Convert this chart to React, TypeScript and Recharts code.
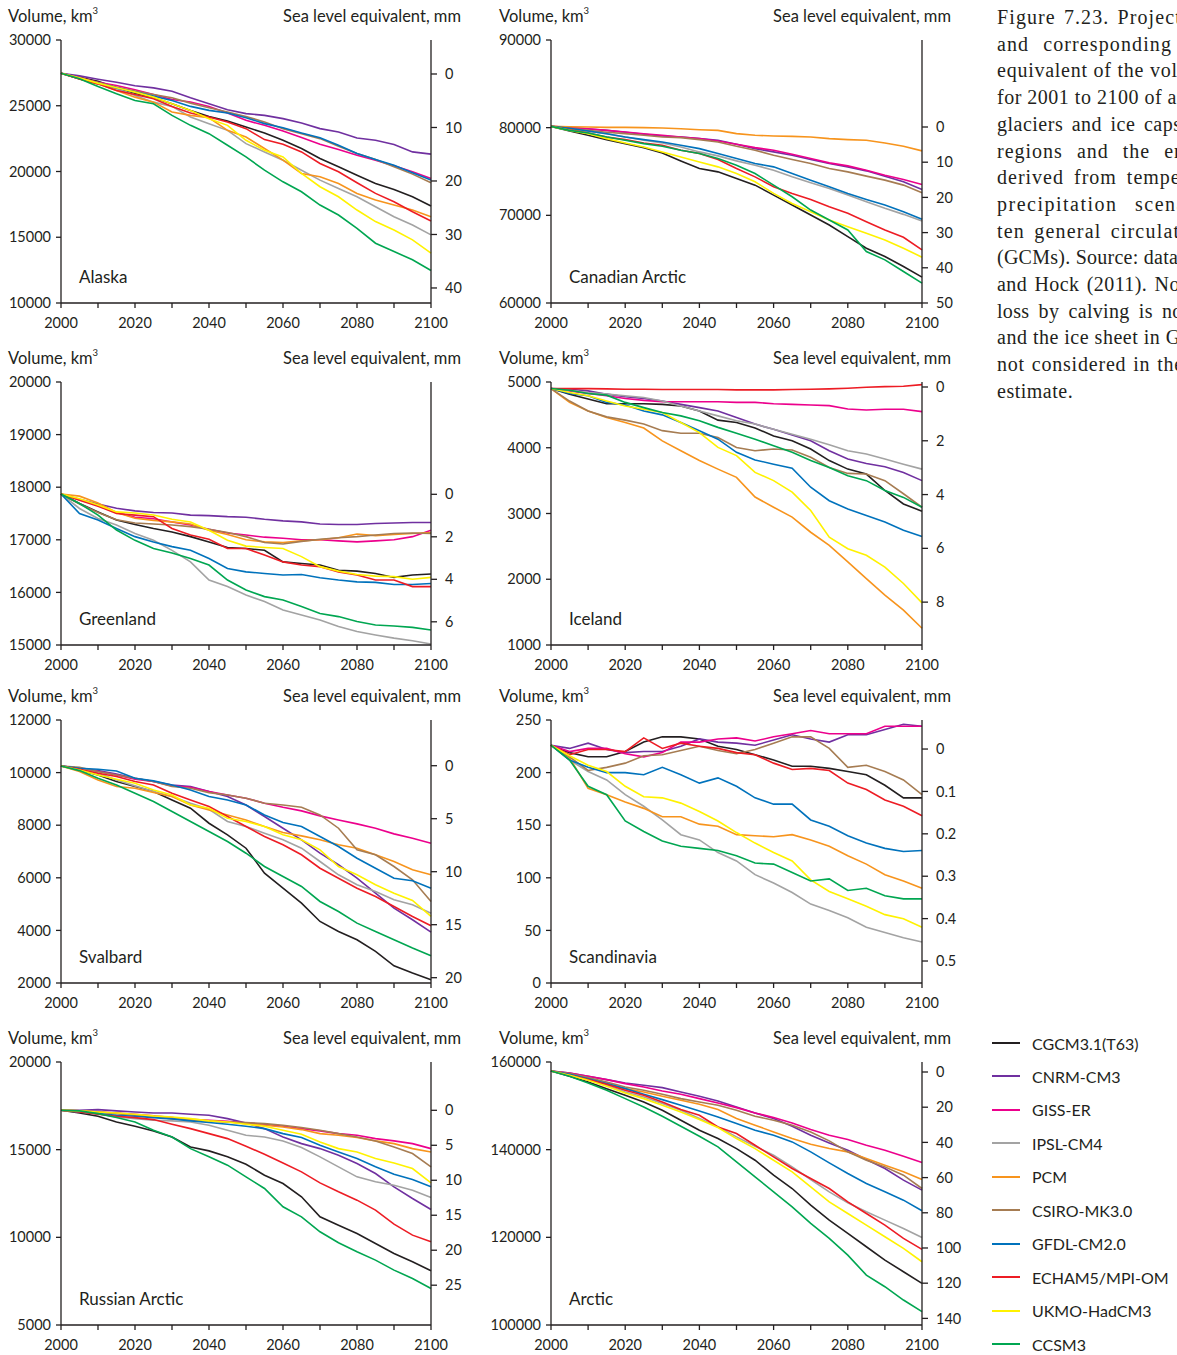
import React from 'react';
import { LineChart, Line, XAxis, YAxis } from 'recharts';

// Glacier volume projections, km3, one value every 5 years 2000-2100.
const YEARS = [2000, 2005, 2010, 2015, 2020, 2025, 2030, 2035, 2040, 2045, 2050, 2055, 2060, 2065, 2070, 2075, 2080, 2085, 2090, 2095, 2100];
const DECADES = [2000, 2010, 2020, 2030, 2040, 2050, 2060, 2070, 2080, 2090, 2100];

const MODELS = ['CGCM3.1(T63)', 'CNRM-CM3', 'GISS-ER', 'IPSL-CM4', 'PCM', 'CSIRO-MK3.0', 'GFDL-CM2.0', 'ECHAM5/MPI-OM', 'UKMO-HadCM3', 'CCSM3'];
const COLORS = ['#231f20', '#7030a0', '#ec008c', '#a3a3a3', '#f7941d', '#a67c52', '#0072bc', '#ed1c24', '#fff200', '#00a651'];

// each panel: one row per model, in MODELS order
const ALASKA = [
  [27470, 27170, 26870, 26365, 25960, 25605, 25150, 24645, 24190, 23840, 23385, 22930, 22375, 21745, 20985, 20355, 19720, 19090, 18640, 18080, 17375],
  [27470, 27270, 27020, 26790, 26520, 26360, 26110, 25600, 25150, 24700, 24400, 24270, 24020, 23690, 23260, 23010, 22550, 22380, 22050, 21490, 21320],
  [27470, 27120, 26790, 26540, 26210, 25860, 25480, 25280, 24950, 24450, 23890, 23510, 23080, 22580, 22070, 21670, 21240, 20860, 20430, 19980, 19470],
  [27470, 27045, 26665, 26290, 25780, 25275, 24950, 24140, 23635, 23130, 22120, 21490, 20860, 20100, 19345, 18710, 18080, 17320, 16565, 15935, 15180],
  [27470, 27045, 26665, 26160, 25655, 25275, 24520, 24270, 24090, 23130, 22625, 21745, 20860, 19850, 19595, 19090, 18335, 17830, 17450, 17070, 16565],
  [27470, 27095, 26770, 26415, 26110, 25860, 25605, 25200, 24850, 24520, 24190, 23765, 23260, 22880, 22500, 21920, 21365, 20910, 20355, 19800, 19140],
  [27470, 27050, 26720, 26360, 26035, 25730, 25400, 24950, 24650, 24445, 24090, 23640, 23330, 22930, 22575, 21995, 21365, 20910, 20480, 19900, 19345],
  [27470, 27045, 26665, 26160, 25860, 25530, 24950, 24445, 24140, 23765, 23260, 22425, 22070, 21490, 20605, 19975, 19140, 18335, 17705, 16945, 16240],
  [27470, 27120, 26720, 26365, 26035, 25655, 25150, 24645, 24015, 23510, 22375, 21615, 21110, 19850, 18840, 18080, 17070, 16190, 15555, 14800, 13790],
  [27470, 27045, 26465, 25910, 25405, 25150, 24270, 23510, 22875, 21995, 21110, 20100, 19215, 18460, 17450, 16690, 15680, 14545, 13915, 13285, 12475],
];

const CANADIAN_ARCTIC = [
  [80150, 79620, 79130, 78635, 78180, 77725, 77120, 76210, 75340, 74960, 74205, 73445, 72310, 71170, 70035, 68900, 67575, 66250, 65300, 64165, 62950],
  [80150, 80000, 79850, 79695, 79470, 79240, 79050, 78940, 78750, 78560, 78105, 77610, 77235, 76855, 76360, 75910, 75530, 75075, 74470, 73825, 72950],
  [80150, 80000, 79885, 79695, 79505, 79315, 79130, 78940, 78750, 78485, 78105, 77725, 77425, 76970, 76475, 75985, 75640, 75150, 74580, 74090, 73520],
  [80150, 79850, 79580, 79315, 78940, 78560, 78255, 77800, 77235, 76780, 76210, 75720, 75150, 74390, 73710, 73065, 72310, 71550, 70795, 70110, 69355],
  [80150, 80110, 80075, 80035, 80035, 80000, 79960, 79885, 79770, 79695, 79320, 79130, 79050, 79010, 78940, 78750, 78635, 78560, 78255, 77880, 77350],
  [80150, 79925, 79695, 79470, 79315, 79130, 78940, 78860, 78635, 78370, 77880, 77425, 76855, 76360, 75910, 75340, 74960, 74470, 74015, 73445, 72575],
  [80150, 79925, 79620, 79315, 78940, 78635, 78370, 77990, 77610, 77045, 76475, 75910, 75530, 74770, 74015, 73255, 72500, 71815, 71170, 70415, 69545],
  [80150, 79770, 79390, 78940, 78635, 78255, 77990, 77425, 77045, 76360, 75340, 74390, 73255, 72500, 71815, 70985, 70225, 69280, 68330, 67500, 66060],
  [80150, 79695, 79315, 78750, 78255, 77800, 77235, 76665, 76095, 75530, 74770, 73825, 72500, 71360, 70415, 69470, 68710, 67955, 67195, 66250, 65225],
  [80150, 79695, 79390, 78940, 78560, 78180, 77880, 77425, 77045, 76475, 75720, 74770, 73445, 72120, 70605, 69470, 68330, 65870, 64920, 63595, 62270],
];

const GREENLAND = [
  [17870, 17690, 17530, 17375, 17290, 17215, 17150, 17060, 16960, 16855, 16835, 16800, 16580, 16550, 16520, 16420, 16405, 16360, 16285, 16330, 16350],
  [17870, 17770, 17680, 17600, 17550, 17520, 17510, 17470, 17460, 17440, 17430, 17390, 17360, 17340, 17300, 17290, 17290, 17310, 17320, 17330, 17330],
  [17870, 17760, 17650, 17520, 17430, 17400, 17340, 17280, 17200, 17130, 17090, 17050, 17030, 17000, 17000, 16980, 16960, 16980, 17000, 17060, 17180],
  [17870, 17595, 17405, 17280, 17120, 16990, 16800, 16580, 16235, 16110, 15950, 15825, 15665, 15570, 15475, 15350, 15255, 15190, 15130, 15080, 15020],
  [17870, 17830, 17700, 17520, 17410, 17370, 17340, 17300, 17180, 17100, 17000, 16960, 16950, 16980, 17000, 17040, 17110, 17080, 17100, 17120, 17140],
  [17870, 17680, 17520, 17380, 17320, 17300, 17280, 17250, 17200, 17140, 17060, 16950, 16920, 16970, 17010, 17040, 17060, 17090, 17120, 17130, 17120],
  [17870, 17500, 17375, 17215, 17060, 16960, 16870, 16800, 16645, 16455, 16390, 16360, 16330, 16340, 16280, 16235, 16200, 16190, 16150, 16150, 16170],
  [17870, 17750, 17640, 17500, 17470, 17440, 17215, 17090, 17010, 16835, 16835, 16710, 16580, 16520, 16490, 16390, 16330, 16235, 16235, 16110, 16110],
  [17870, 17780, 17660, 17530, 17510, 17470, 17390, 17340, 17180, 16990, 16880, 16855, 16835, 16680, 16490, 16405, 16340, 16310, 16300, 16250, 16285],
  [17870, 17690, 17470, 17185, 16990, 16835, 16750, 16645, 16520, 16235, 16045, 15920, 15855, 15730, 15600, 15540, 15445, 15380, 15360, 15335, 15285],
];

const ICELAND = [
  [4900, 4815, 4740, 4670, 4670, 4670, 4660, 4635, 4560, 4420, 4385, 4300, 4180, 4105, 3980, 3805, 3675, 3600, 3350, 3145, 3035],
  [4900, 4890, 4865, 4815, 4775, 4750, 4710, 4660, 4610, 4560, 4460, 4360, 4280, 4195, 4105, 3955, 3830, 3760, 3710, 3625, 3500],
  [4900, 4865, 4825, 4790, 4750, 4720, 4700, 4700, 4700, 4700, 4690, 4690, 4670, 4660, 4650, 4640, 4590, 4575, 4585, 4585, 4550],
  [4900, 4875, 4840, 4815, 4790, 4765, 4710, 4635, 4560, 4485, 4410, 4360, 4280, 4205, 4130, 4045, 3955, 3905, 3830, 3750, 3675],
  [4900, 4690, 4560, 4460, 4385, 4300, 4105, 3955, 3805, 3675, 3550, 3250, 3095, 2945, 2715, 2515, 2265, 2010, 1760, 1530, 1255],
  [4900, 4710, 4560, 4470, 4420, 4360, 4260, 4220, 4220, 4155, 4005, 3955, 3980, 3965, 3855, 3700, 3610, 3600, 3500, 3300, 3095],
  [4900, 4825, 4790, 4690, 4650, 4560, 4500, 4385, 4260, 4130, 3930, 3815, 3750, 3690, 3400, 3195, 3070, 2970, 2870, 2745, 2650],
  [4900, 4900, 4900, 4895, 4890, 4890, 4885, 4885, 4885, 4885, 4880, 4880, 4880, 4885, 4890, 4895, 4905, 4920, 4930, 4935, 4960],
  [4900, 4840, 4790, 4710, 4635, 4585, 4535, 4385, 4230, 4005, 3880, 3625, 3500, 3325, 3045, 2640, 2465, 2365, 2185, 1935, 1640],
  [4900, 4875, 4825, 4800, 4690, 4610, 4535, 4485, 4410, 4310, 4220, 4130, 4030, 3930, 3805, 3700, 3575, 3500, 3350, 3245, 3095],
];

const SVALBARD = [
  [10250, 10100, 9910, 9660, 9470, 9280, 8960, 8645, 8075, 7635, 7125, 6175, 5605, 5035, 4340, 3960, 3645, 3200, 2655, 2380, 2125],
  [10250, 10165, 10075, 9950, 9785, 9660, 9530, 9470, 9280, 9090, 8770, 8330, 7885, 7445, 6935, 6495, 5985, 5415, 4845, 4405, 3935],
  [10250, 10165, 10040, 9910, 9745, 9660, 9495, 9445, 9280, 9150, 9025, 8835, 8680, 8545, 8355, 8200, 8050, 7885, 7670, 7505, 7315],
  [10250, 10165, 9975, 9720, 9495, 9280, 9090, 8835, 8605, 8140, 7950, 7695, 7445, 7125, 6620, 6115, 5735, 5480, 5165, 4975, 4655],
  [10250, 10040, 9720, 9470, 9405, 9240, 9090, 8770, 8580, 8390, 8200, 7950, 7720, 7595, 7445, 7255, 7125, 6875, 6620, 6305, 6115],
  [10250, 10200, 10040, 9910, 9785, 9660, 9470, 9405, 9240, 9150, 9025, 8835, 8770, 8680, 8390, 7885, 7065, 6875, 6430, 5925, 5100],
  [10250, 10165, 10125, 10060, 9785, 9685, 9530, 9340, 9090, 8960, 8770, 8390, 8100, 7950, 7570, 7190, 6745, 6365, 5985, 5885, 5605],
  [10250, 10125, 9975, 9850, 9660, 9530, 9215, 8960, 8710, 8330, 7950, 7570, 7255, 6875, 6365, 5985, 5605, 5290, 4910, 4530, 4175],
  [10250, 10100, 9910, 9745, 9595, 9340, 9150, 8770, 8645, 8265, 8140, 7950, 7635, 7445, 7065, 6430, 6115, 5735, 5415, 5140, 4530],
  [10250, 10075, 9785, 9530, 9215, 8900, 8520, 8140, 7760, 7380, 6935, 6430, 6050, 5670, 5100, 4720, 4275, 3960, 3645, 3330, 3035],
];

const SCANDINAVIA = [
  [226, 219, 215, 215, 220, 229, 234, 234, 232, 225, 222, 217, 212, 206, 206, 204, 201, 198, 188, 176, 176],
  [226, 223, 228, 222, 219, 220, 220, 225, 232, 229, 228, 226, 231, 236, 232, 229, 236, 236, 241, 246, 244],
  [226, 220, 223, 223, 218, 215, 219, 229, 229, 232, 233, 230, 234, 237, 240, 237, 237, 237, 244, 244, 244],
  [226, 212, 201, 193, 179, 168, 155, 141, 136, 124, 116, 103, 95, 86, 75, 69, 62, 53, 48, 43, 39],
  [226, 214, 185, 179, 172, 166, 158, 158, 151, 149, 141, 140, 139, 141, 136, 130, 121, 113, 103, 97, 90],
  [226, 215, 202, 205, 209, 216, 217, 221, 225, 221, 218, 222, 228, 234, 234, 223, 205, 207, 201, 193, 179],
  [226, 212, 205, 200, 200, 198, 205, 198, 190, 195, 187, 176, 170, 170, 155, 149, 140, 133, 128, 125, 126],
  [226, 217, 222, 222, 220, 233, 223, 228, 225, 223, 219, 217, 209, 203, 204, 202, 190, 184, 174, 168, 159],
  [226, 216, 207, 201, 187, 177, 176, 171, 163, 154, 143, 133, 124, 116, 98, 87, 80, 73, 65, 61, 53],
  [226, 212, 187, 179, 154, 144, 135, 130, 128, 126, 121, 114, 113, 105, 97, 99, 88, 90, 83, 80, 80],
];

const RUSSIAN_ARCTIC = [
  [17250, 17095, 16905, 16580, 16335, 16070, 15725, 15155, 14930, 14590, 14170, 13545, 13070, 12310, 11170, 10695, 10220, 9650, 9080, 8605, 8095],
  [17250, 17250, 17285, 17210, 17150, 17095, 17095, 17020, 16960, 16770, 16525, 16200, 15725, 15345, 15060, 14685, 14210, 13640, 12880, 12215, 11590],
  [17250, 17210, 17150, 17095, 17020, 16925, 16830, 16735, 16675, 16620, 16525, 16450, 16335, 16200, 16070, 15915, 15820, 15630, 15500, 15345, 15060],
  [17250, 17150, 17055, 16865, 16770, 16675, 16640, 16580, 16390, 16105, 15820, 15725, 15500, 15120, 14590, 14020, 13450, 13165, 12975, 12690, 12270],
  [17250, 17210, 17150, 17095, 16960, 16865, 16770, 16735, 16640, 16580, 16485, 16390, 16295, 16145, 15915, 15820, 15690, 15500, 15345, 15060, 14870],
  [17250, 17210, 17150, 17055, 16960, 16865, 16770, 16675, 16620, 16580, 16545, 16485, 16390, 16260, 16105, 15915, 15725, 15500, 15155, 14780, 14020],
  [17250, 17150, 17055, 16960, 16905, 16830, 16755, 16640, 16545, 16450, 16335, 16200, 15915, 15690, 15255, 14870, 14495, 14020, 13600, 13295, 12880],
  [17250, 17150, 17020, 16905, 16830, 16715, 16450, 16200, 15915, 15630, 15195, 14740, 14245, 13735, 13105, 12595, 12120, 11550, 10750, 10125, 9745],
  [17250, 17210, 17150, 17095, 17020, 16925, 16865, 16770, 16640, 16580, 16450, 16335, 16105, 15880, 15440, 15060, 14870, 14495, 14245, 13925, 13105],
  [17250, 17210, 17055, 16830, 16580, 16105, 15725, 15060, 14590, 14115, 13450, 12785, 11740, 11170, 10315, 9690, 9175, 8700, 8130, 7655, 7085],
];

const ARCTIC = [
  [157950, 156735, 155445, 153925, 152405, 150885, 148985, 146710, 144430, 142530, 140250, 137595, 134175, 131140, 127340, 123925, 120885, 117850, 114810, 112150, 109495],
  [157950, 157500, 156735, 155975, 155215, 154685, 154150, 153165, 152180, 151115, 149745, 148380, 147090, 145340, 143290, 141545, 139870, 137745, 135700, 133040, 130760],
  [157950, 157500, 156735, 155975, 155065, 154300, 153390, 152630, 151645, 150660, 149595, 148380, 147315, 146100, 144580, 143290, 142300, 141010, 139870, 138505, 137065],
  [157950, 156960, 155975, 154685, 153165, 152025, 150505, 148985, 147090, 145190, 142910, 140785, 138735, 136075, 133190, 130380, 127875, 125820, 123925, 122025, 119975],
  [157950, 157190, 156200, 155065, 153925, 153165, 152180, 151265, 150355, 149140, 147090, 145570, 144050, 142530, 141240, 140250, 139495, 137975, 136455, 134935, 133190],
  [157950, 157340, 156430, 155445, 154300, 153545, 152630, 151645, 150885, 150125, 148985, 147620, 146710, 145570, 144050, 142000, 139495, 137595, 136075, 134175, 131140],
  [157950, 157190, 156200, 155065, 153925, 152630, 151415, 150125, 148835, 147470, 145950, 144430, 143290, 141770, 139495, 136990, 134555, 132280, 130380, 128480, 126050],
  [157950, 156960, 155975, 154910, 153545, 152405, 150885, 149140, 147850, 145190, 143670, 141010, 138355, 135700, 133420, 131140, 128100, 125445, 122785, 119745, 117240],
  [157950, 156960, 155825, 154455, 152935, 151645, 150125, 148610, 146860, 145040, 142530, 140250, 137595, 134935, 131520, 128100, 125445, 122785, 120125, 117470, 114430],
  [157950, 156735, 155215, 153545, 151645, 149745, 147620, 145340, 143065, 140635, 137215, 133800, 130380, 126960, 123165, 119745, 115950, 111390, 108735, 105695, 103035],
];

// zero = volume at 0 mm sea level, kmPerMm = km3 of ice per mm of sea level
const PANELS = [
  { name: 'Alaska', series: ALASKA, col: 0, row: 0, yDomain: [10000, 30000], yTicks: [10000, 15000, 20000, 25000, 30000], zero: 27415, kmPerMm: 406.8, sleTicks: [0, 10, 20, 30, 40] },
  { name: 'Canadian Arctic', series: CANADIAN_ARCTIC, col: 1, row: 0, yDomain: [60000, 90000], yTicks: [60000, 70000, 80000, 90000], zero: 80076, kmPerMm: 401.5, sleTicks: [0, 10, 20, 30, 40, 50] },
  { name: 'Greenland', series: GREENLAND, col: 0, row: 1, yDomain: [15000, 20000], yTicks: [15000, 16000, 17000, 18000, 19000, 20000], zero: 17865, kmPerMm: 404, sleTicks: [0, 2, 4, 6] },
  { name: 'Iceland', series: ICELAND, col: 1, row: 1, yDomain: [1000, 5000], yTicks: [1000, 2000, 3000, 4000, 5000], zero: 4924, kmPerMm: 409, sleTicks: [0, 2, 4, 6, 8] },
  { name: 'Svalbard', series: SVALBARD, col: 0, row: 2, yDomain: [2000, 12000], yTicks: [2000, 4000, 6000, 8000, 10000, 12000], zero: 10262, kmPerMm: 403, sleTicks: [0, 5, 10, 15, 20] },
  { name: 'Scandinavia', series: SCANDINAVIA, col: 1, row: 2, yDomain: [0, 250], yTicks: [0, 50, 100, 150, 200, 250], zero: 222.4, kmPerMm: 403, sleTicks: [0, 0.1, 0.2, 0.3, 0.4, 0.5] },
  { name: 'Russian Arctic', series: RUSSIAN_ARCTIC, col: 0, row: 3, yDomain: [5000, 20000], yTicks: [5000, 10000, 15000, 20000], zero: 17245, kmPerMm: 399, sleTicks: [0, 5, 10, 15, 20, 25] },
  { name: 'Arctic', series: ARCTIC, col: 1, row: 3, yDomain: [100000, 160000], yTicks: [100000, 120000, 140000, 160000], zero: 157719, kmPerMm: 401.5, sleTicks: [0, 20, 40, 60, 80, 100, 120, 140] },
];

// the caption runs off the right edge of the picture, as in the original page
const CAPTION = [
  { text: 'Figure 7.23. Projected volume', ws: 2, ls: 1.1 },
  { text: 'and corresponding sea-level', ws: 8, ls: 1.1 },
  { text: 'equivalent of the volume change', ws: 0, ls: 0.75 },
  { text: 'for 2001 to 2100 of all mountain', ws: 0, ls: 0.5 },
  { text: 'glaciers and ice caps in Arctic', ws: 3, ls: 0.5 },
  { text: 'regions and the entire Arctic', ws: 8, ls: 1.0 },
  { text: 'derived from temperature and', ws: 4, ls: 1.0 },
  { text: 'precipitation scenarios from', ws: 11, ls: 1.5 },
  { text: 'ten general circulation models', ws: 3, ls: 1.2 },
  { text: '(GCMs). Source: data from Radić', ws: 0, ls: 0.25 },
  { text: 'and Hock (2011). Note: mass', ws: 2, ls: 0.4 },
  { text: 'loss by calving is not included', ws: 4, ls: 0.3 },
  { text: 'and the ice sheet in Greenland is', ws: 0, ls: 0.5 },
  { text: 'not considered in the total', ws: 1, ls: 0.8 },
  { text: 'estimate.', ws: 0, ls: 0.5 },
];

const INK = '#231f20';
const ROW_TOPS = [0, 341.7, 680, 1021.7];
const CHART_H = 333;

function Panel({ p }: { p: any }) {
  const data = YEARS.map((year, i) => {
    const row: any = { year };
    p.series.forEach((s: number[], j: number) => (row['m' + j] = s[i]));
    return row;
  });
  const width = p.col === 0 ? 480 : 481;
  const left = p.col === 0 ? 0 : 490;
  const [vMin, vMax] = p.yDomain;
  const sleDomain = [(p.zero - vMax) / p.kmPerMm, (p.zero - vMin) / p.kmPerMm];
  const tick = { fontSize: 14.5, fill: INK };
  const axisLine = { stroke: INK, strokeWidth: 1.3 };

  return (
    <div style={{ position: 'absolute', left, top: ROW_TOPS[p.row], width, height: CHART_H }}>
      <LineChart width={width} height={CHART_H} data={data} margin={{ top: 40, right: 0, bottom: 0, left: 0 }}>
        <XAxis
          dataKey="year"
          type="number"
          domain={[2000, 2100]}
          ticks={DECADES}
          tickFormatter={(v: number) => (v % 20 === 0 ? String(v) : '')}
          height={30}
          tickSize={5}
          tickMargin={10}
          tick={tick}
          axisLine={axisLine}
          tickLine={axisLine}
          interval={0}
        />
        <YAxis
          yAxisId="vol"
          domain={p.yDomain}
          ticks={p.yTicks}
          allowDataOverflow
          width={61}
          tickSize={5}
          tickMargin={5}
          tick={tick}
          axisLine={axisLine}
          tickLine={axisLine}
          interval={0}
        />
        <YAxis
          yAxisId="sle"
          orientation="right"
          reversed
          domain={sleDomain}
          ticks={p.sleTicks}
          allowDataOverflow
          width={49}
          tickSize={6}
          tickMargin={8}
          tick={tick}
          axisLine={axisLine}
          tickLine={axisLine}
          interval={0}
        />
        {MODELS.map((m, j) => (
          <Line
            key={m}
            yAxisId="vol"
            type="linear"
            dataKey={'m' + j}
            stroke={COLORS[j]}
            strokeWidth={1.6}
            dot={false}
            isAnimationActive={false}
          />
        ))}
      </LineChart>
      <div style={{ position: 'absolute', left: p.col === 0 ? 8 : 9, top: 6, fontSize: 16.5, color: INK, whiteSpace: 'nowrap' }}>
        Volume, km<sup style={{ fontSize: 9.5, verticalAlign: 'top', position: 'relative', top: -1 }}>3</sup>
      </div>
      <div style={{ position: 'absolute', right: width - 461, top: 6, fontSize: 16.5, color: INK, whiteSpace: 'nowrap' }}>
        Sea level equivalent, mm
      </div>
      <div style={{ position: 'absolute', left: 79, top: 266, fontSize: 17, color: INK, whiteSpace: 'nowrap' }}>
        {p.name}
      </div>
    </div>
  );
}

export default function App() {
  return (
    <div
      style={{
        position: 'absolute',
        left: 0,
        top: 0,
        width: 1177,
        height: 1355,
        overflow: 'hidden',
        background: '#fff',
        fontFamily: 'Lato, "Liberation Sans", sans-serif',
      }}
    >
      {PANELS.map((p) => (
        <Panel key={p.name} p={p} />
      ))}

      {CAPTION.map((c, i) => (
        <div
          key={i}
          style={{
            position: 'absolute',
            left: 997,
            top: 4 + i * 26.7,
            fontFamily: '"Liberation Serif", serif',
            fontSize: 20,
            lineHeight: '26px',
            color: INK,
            whiteSpace: 'nowrap',
            wordSpacing: c.ws,
            letterSpacing: c.ls,
          }}
        >
          {c.text}
        </div>
      ))}

      {MODELS.map((m, j) => (
        <div key={m} style={{ position: 'absolute', left: 992, top: 1043 + j * 33.45 - 11, height: 22, display: 'flex', alignItems: 'center' }}>
          <div style={{ width: 28, height: 2, background: COLORS[j] }} />
          <div style={{ marginLeft: 12, fontSize: 16, color: INK, whiteSpace: 'nowrap' }}>{m}</div>
        </div>
      ))}
    </div>
  );
}
